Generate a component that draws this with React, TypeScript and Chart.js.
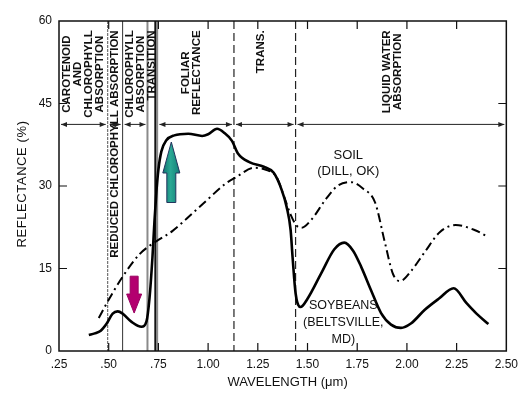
import { useEffect, useRef } from "react";
import { Chart, registerables } from "chart.js";

Chart.register(...registerables);

// ---- data ----
const soyWavelength = [
  0.4, 0.43, 0.46, 0.49, 0.52, 0.545, 0.57, 0.615, 0.665, 0.69, 0.705, 0.72, 0.73, 0.74, 0.75, 0.765,
  0.79, 0.83, 0.9, 0.97, 1.0, 1.045, 1.08, 1.12, 1.15, 1.21, 1.28, 1.33, 1.37, 1.395, 1.415, 1.425,
  1.44, 1.465, 1.5, 1.57, 1.635, 1.685, 1.73, 1.77, 1.82, 1.87, 1.92, 1.97, 2.02, 2.09, 2.16, 2.235,
  2.3, 2.35, 2.41,
];
const soyReflectance = [
  2.9, 3.2, 3.7, 5.0, 6.8, 7.2, 6.8, 5.3, 4.4, 5.4, 9.5, 17, 23.5, 29, 33, 36.3,
  38.3, 39.2, 39.5, 39.1, 39.4, 40.4, 39.7, 38.2, 35.9, 34.3, 33.5, 32.4, 29.3, 26.2, 22, 17,
  10.5, 8.0, 9.5, 14.2, 18.5, 19.7, 18.2, 15.3, 11, 6.9, 4.8, 4.2, 5.0, 7.5, 9.5, 11.4,
  8.7, 6.8, 4.9,
];
const soilWavelength = [
  0.45, 0.495, 0.57, 0.655, 0.72, 0.75, 0.82, 0.92, 0.99, 1.09, 1.145, 1.23, 1.295, 1.345, 1.38,
  1.415, 1.445, 1.47, 1.52, 1.59, 1.65, 1.72, 1.78, 1.84, 1.89, 1.93, 1.965, 2.02, 2.09, 2.165,
  2.245, 2.34, 2.41,
];
const soilReflectance = [
  6.0, 9.0, 13.5, 17.6, 19.5, 20.2, 21.8, 25, 27.3, 30.5, 31.7, 33.3, 32.9, 31.6, 28.3,
  24.8, 22.8, 22.4, 23.9, 27.5, 30, 30.7, 29.5, 27, 19.6, 14, 12.7, 14.5, 18, 21.6,
  22.9, 22, 20.7,
];

const xTickValues = [0.25, 0.5, 0.75, 1.0, 1.25, 1.5, 1.75, 2.0, 2.25, 2.5];
const xTickLabels = [".25", ".50", ".75", "1.00", "1.25", "1.50", "1.75", "2.00", "2.25", "2.50"];
const yTickValues = [0, 15, 30, 45, 60];
const yTickLabels = ["0", "15", "30", "45", "60"];

const boundaryWavelengths = [0.495, 0.57, 0.695, 0.735, 0.745, 1.13, 1.44];

const regionTexts = [
  ["CAROTENOID", "AND", "CHLOROPHYLL", "ABSORPTION"],
  ["REDUCED CHLOROPHYLL ABSORPTION"],
  ["CHLOROPHYLL", "ABSORPTION"],
  ["TRANSITION"],
  ["FOLIAR", "REFLECTANCE"],
  ["TRANS."],
  ["LIQUID WATER", "ABSORPTION"],
];
const regionCenters = [0.3725, 0.53, 0.635, 0.715, 0.915, 1.265, 1.9275];

const spanStarts = [0.25, 0.495, 0.57, 0.745, 1.13, 1.44];
const spanEnds = [0.495, 0.57, 0.695, 1.13, 1.44, 2.5];
const spanLevel = 41.2;
const regionTopLevel = 58.3;

const soilLabel = ["SOIL", "(DILL, OK)"];
const soilLabelAt = { x: 1.705, y: [35.6, 32.6] };
const soyLabel = ["SOYBEANS", "(BELTSVILLE,", "MD)"];
const soyLabelAt = { x: 1.68, y: [8.2, 5.1, 2.0] };

const arrowWavelengths = [0.815, 0.628];
const arrowFrom = [27.0, 13.6];
const arrowTo = [38.0, 6.9];

const xTitle = "WAVELENGTH (\u03bcm)";
const yTitle = "REFLECTANCE (%)";

const FONT = "'Liberation Sans', Arial, Helvetica, sans-serif";

function drawBlockArrow(
  ctx: CanvasRenderingContext2D,
  cx: number,
  yTail: number,
  yTip: number,
  shaftW: number,
  headW: number,
  headLen: number,
  fill: string | CanvasGradient,
  stroke: string
) {
  const dir = yTip < yTail ? -1 : 1;
  const yBase = yTip - dir * headLen;
  ctx.beginPath();
  ctx.moveTo(cx - shaftW / 2, yTail);
  ctx.lineTo(cx - shaftW / 2, yBase);
  ctx.lineTo(cx - headW / 2, yBase);
  ctx.lineTo(cx, yTip);
  ctx.lineTo(cx + headW / 2, yBase);
  ctx.lineTo(cx + shaftW / 2, yBase);
  ctx.lineTo(cx + shaftW / 2, yTail);
  ctx.closePath();
  ctx.fillStyle = fill;
  ctx.fill();
  ctx.lineWidth = 1;
  ctx.strokeStyle = stroke;
  ctx.stroke();
}

function arrowHead(ctx: CanvasRenderingContext2D, x: number, y: number, dir: number) {
  ctx.beginPath();
  ctx.moveTo(x, y);
  ctx.lineTo(x - dir * 6, y - 2.5);
  ctx.lineTo(x - dir * 6, y + 2.5);
  ctx.closePath();
  ctx.fill();
}

const decorations = {
  id: "decorations",
  beforeDatasetsDraw(chart: any) {
    const { ctx, chartArea: a, scales } = chart;
    const xs = scales.x;
    const ys = scales.y;
    ctx.save();
    // boundary lines
    boundaryWavelengths.forEach((w, i) => {
      const x = xs.getPixelForValue(w);
      ctx.beginPath();
      ctx.setLineDash([]);
      if (i === 0) {
        ctx.strokeStyle = "#555";
        ctx.lineWidth = 1;
        ctx.setLineDash([3, 1]);
      } else if (i === 1) {
        ctx.strokeStyle = "#333";
        ctx.lineWidth = 1;
      } else if (i === 2) {
        ctx.strokeStyle = "#8a8a8a";
        ctx.lineWidth = 2;
      } else if (i === 3) {
        ctx.strokeStyle = "#111";
        ctx.lineWidth = 2.2;
      } else if (i === 4) {
        ctx.strokeStyle = "#8a8a8a";
        ctx.lineWidth = 1.5;
      } else {
        ctx.strokeStyle = "#222";
        ctx.lineWidth = 1.2;
        ctx.setLineDash([8, 4]);
      }
      ctx.moveTo(x, a.top);
      ctx.lineTo(x, a.bottom);
      ctx.stroke();
    });
    ctx.setLineDash([]);
    // spans with arrows
    const yl = ys.getPixelForValue(spanLevel);
    ctx.strokeStyle = "#222";
    ctx.fillStyle = "#222";
    ctx.lineWidth = 1;
    spanStarts.forEach((s, i) => {
      const x1 = xs.getPixelForValue(s) + 2;
      const x2 = xs.getPixelForValue(spanEnds[i]) - 2;
      ctx.beginPath();
      ctx.moveTo(x1, yl);
      ctx.lineTo(x2, yl);
      ctx.stroke();
      arrowHead(ctx, x1, yl, -1);
      arrowHead(ctx, x2, yl, 1);
    });
    // region texts
    ctx.fillStyle = "#111";
    ctx.font = "bold 11.5px " + FONT;
    ctx.textAlign = "center";
    ctx.textBaseline = "middle";
    const yTop = ys.getPixelForValue(regionTopLevel);
    regionTexts.forEach((lines, i) => {
      const cx = xs.getPixelForValue(regionCenters[i]);
      const maxW = Math.max(...lines.map((l) => ctx.measureText(l).width));
      const cy = yTop + maxW / 2;
      const lh = 11;
      lines.forEach((l, j) => {
        const off = (j - (lines.length - 1) / 2) * lh;
        ctx.save();
        ctx.translate(cx + off, cy);
        ctx.rotate(-Math.PI / 2);
        ctx.fillText(l, 0, 0);
        ctx.restore();
      });
    });
    ctx.restore();
  },
  afterDatasetsDraw(chart: any) {
    const { ctx, chartArea: a, scales } = chart;
    const xs = scales.x;
    const ys = scales.y;
    ctx.save();
    // frame
    ctx.strokeStyle = "#111";
    ctx.lineWidth = 1.5;
    ctx.strokeRect(a.left, a.top, a.right - a.left, a.bottom - a.top);
    // inward ticks
    ctx.lineWidth = 1.2;
    ctx.beginPath();
    xTickValues.slice(1, -1).forEach((v) => {
      const x = xs.getPixelForValue(v);
      ctx.moveTo(x, a.bottom);
      ctx.lineTo(x, a.bottom - 8);
      ctx.moveTo(x, a.top);
      ctx.lineTo(x, a.top + 8);
    });
    yTickValues.slice(1, -1).forEach((v) => {
      const y = ys.getPixelForValue(v);
      ctx.moveTo(a.left, y);
      ctx.lineTo(a.left + 8, y);
      ctx.moveTo(a.right, y);
      ctx.lineTo(a.right - 8, y);
    });
    ctx.stroke();
    // colored arrows
    const x0 = xs.getPixelForValue(arrowWavelengths[0]);
    const g = ctx.createLinearGradient(x0 - 9, 0, x0 + 9, 0);
    g.addColorStop(0, "#0c6f6c");
    g.addColorStop(0.45, "#2aa894");
    g.addColorStop(1, "#127c76");
    drawBlockArrow(
      ctx,
      x0,
      ys.getPixelForValue(arrowFrom[0]),
      ys.getPixelForValue(arrowTo[0]),
      9,
      17,
      31,
      g,
      "#23355e"
    );
    const x1 = xs.getPixelForValue(arrowWavelengths[1]);
    drawBlockArrow(
      ctx,
      x1,
      ys.getPixelForValue(arrowFrom[1]),
      ys.getPixelForValue(arrowTo[1]),
      8,
      15,
      19,
      "#b3006f",
      "#9a0060"
    );
    // curve labels
    ctx.fillStyle = "#111";
    ctx.textAlign = "center";
    ctx.textBaseline = "middle";
    ctx.font = "13px " + FONT;
    soilLabel.forEach((t, i) => {
      ctx.fillText(t, xs.getPixelForValue(soilLabelAt.x), ys.getPixelForValue(soilLabelAt.y[i]));
    });
    ctx.font = "12.5px " + FONT;
    soyLabel.forEach((t, i) => {
      ctx.fillText(t, xs.getPixelForValue(soyLabelAt.x), ys.getPixelForValue(soyLabelAt.y[i]));
    });
    // axis titles
    ctx.font = "13px " + FONT;
    ctx.fillText(xTitle, (a.left + a.right) / 2 + 5, a.bottom + 31);
    ctx.save();
    (ctx as any).letterSpacing = "0.6px";
    ctx.translate(22, 184);
    ctx.rotate(-Math.PI / 2);
    ctx.fillText(yTitle, 0, 0);
    ctx.restore();
    ctx.restore();
  },
};

export default function App() {
  const ref = useRef<HTMLCanvasElement | null>(null);
  useEffect(() => {
    const canvas = ref.current;
    if (!canvas) return;
    const chart = new Chart(canvas, {
      type: "line",
      data: {
        datasets: [
          {
            label: "Soybeans (Beltsville, MD)",
            data: soyWavelength.map((w, i) => ({ x: w, y: soyReflectance[i] })),
            borderColor: "#000",
            borderWidth: 2.6,
            pointRadius: 0,
            cubicInterpolationMode: "monotone",
            fill: false,
          },
          {
            label: "Soil (Dill, OK)",
            data: soilWavelength.map((w, i) => ({ x: w, y: soilReflectance[i] })),
            borderColor: "#000",
            borderWidth: 2,
            borderDash: [9, 4, 2, 4],
            pointRadius: 0,
            cubicInterpolationMode: "monotone",
            fill: false,
          },
        ],
      },
      options: {
        animation: false,
        responsive: false,
        devicePixelRatio: 1,
        layout: { padding: { top: 21, right: 14, left: 0, bottom: 0 } },
        plugins: { legend: { display: false }, tooltip: { enabled: false } },
        scales: {
          x: {
            type: "linear",
            min: 0.25,
            max: 2.5,
            afterBuildTicks: (s: any) => {
              s.ticks = xTickValues.map((v) => ({ value: v }));
            },
            afterFit: (s: any) => {
              s.height = 46;
            },
            grid: { display: false, drawTicks: false },
            border: { display: false },
            ticks: {
              padding: 6,
              maxRotation: 0,
              autoSkip: false,
              color: "#111",
              font: { family: FONT, size: 12 },
              callback: (v: any) => {
                const i = xTickValues.findIndex((t) => Math.abs(t - Number(v)) < 1e-6);
                return i >= 0 ? xTickLabels[i] : "";
              },
            },
          },
          y: {
            type: "linear",
            min: 0,
            max: 60,
            afterBuildTicks: (s: any) => {
              s.ticks = yTickValues.map((v) => ({ value: v }));
            },
            afterFit: (s: any) => {
              s.width = 59;
            },
            grid: { display: false, drawTicks: false },
            border: { display: false },
            ticks: {
              padding: 7,
              color: "#111",
              font: { family: FONT, size: 12 },
              callback: (v: any) => {
                const i = yTickValues.indexOf(Number(v));
                return i >= 0 ? yTickLabels[i] : "";
              },
            },
          },
        },
      },
      plugins: [decorations],
    } as any);
    return () => chart.destroy();
  }, []);
  return (
    <div style={{ position: "absolute", left: 0, top: 0, width: 524, height: 397, background: "#fff" }}>
      <canvas ref={ref} width={524} height={397} style={{ width: 524, height: 397, display: "block" }} />
    </div>
  );
}
